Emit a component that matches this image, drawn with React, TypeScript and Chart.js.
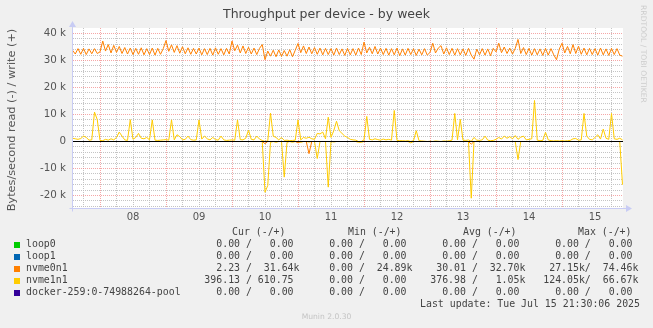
import React, { useEffect, useRef } from "react";
import { Chart, registerables } from "chart.js";

Chart.register(...registerables);

// ---- time axis: hours since Jul 8 00:00, one sample per hour, first sample Jul 7 14:00
const START_HOUR = -10;
const X_MIN = -9.82;
const X_MAX = 190.18;
const Y_MIN_K = -24.63;
const Y_MAX_K = 42.04;

const dayLabels = ["08", "09", "10", "11", "12", "13", "14", "15"];
const dayLabelHours = [12, 36, 60, 84, 108, 132, 156, 180];
const xGridHours = [
  -6, 0, 6, 12, 18, 24, 30, 36, 42, 48, 54, 60, 66, 72, 78, 84, 90, 96, 102, 108,
  114, 120, 126, 132, 138, 144, 150, 156, 162, 168, 174, 180, 186,
];
const yGridK = [
  -24, -22, -20, -18, -16, -14, -12, -10, -8, -6, -4, -2, 0, 2, 4, 6, 8, 10, 12,
  14, 16, 18, 20, 22, 24, 26, 28, 30, 32, 34, 36, 38, 40,
];
const yLabelK = [-20, -10, 0, 10, 20, 30, 40];

// ---- series (k = thousands of bytes/second)
const zeroSpanHours = [-10, 190];
const loop0ReadK = [0, 0];
const loop0WriteK = [0, 0];
const loop1ReadK = [0, 0];
const loop1WriteK = [0, 0];
const dockerReadK = [0, 0];
const dockerWriteK = [0, 0];

const nvme0n1WriteK = [
  // Jul 7 14:00-23:00
  33.8, 32.4, 34.4, 32.3, 34.5, 32.2, 34.3, 32.5, 34.4, 32.6,
  // Jul 8
  33.2, 37.2, 33.5, 35.9, 32.8, 35.6, 33.0, 35.2, 32.6, 34.8, 32.4, 34.6,
  32.2, 34.5, 32.3, 34.7, 32.1, 34.4, 32.2, 34.6, 32.0, 34.5, 32.3, 34.4,
  // Jul 9
  37.4, 33.4, 35.8, 33.0, 35.5, 32.7, 35.1, 32.5, 34.7, 32.3, 34.5, 32.4,
  34.6, 32.1, 34.4, 32.2, 34.5, 32.0, 34.7, 32.3, 34.4, 32.1, 34.5, 32.4,
  // Jul 10
  37.2, 33.6, 35.7, 32.8, 35.4, 32.6, 34.9, 32.4, 34.6, 32.2, 34.5, 35.9,
  30.3, 33.5, 31.6, 33.8, 31.4, 33.9, 31.5, 33.7, 31.6, 34.0, 31.4, 33.8,
  // Jul 11
  36.3, 32.9, 35.4, 32.6, 35.0, 32.5, 34.8, 32.3, 34.6, 32.1, 34.5, 32.2,
  34.4, 32.0, 34.6, 32.2, 34.3, 31.9, 34.5, 32.1, 34.4, 32.0, 34.6, 32.2,
  // Jul 12
  36.8, 32.8, 34.9, 32.5, 35.2, 32.4, 34.6, 32.2, 34.5, 32.0, 34.4, 32.1,
  34.6, 31.8, 34.3, 32.0, 34.5, 32.2, 34.4, 31.9, 34.2, 32.1, 34.4, 32.0,
  // Jul 13
  33.0, 36.4, 32.8, 34.6, 35.5, 32.4, 34.7, 32.2, 34.5, 32.0, 34.4, 32.1,
  34.3, 31.9, 34.5, 32.0, 30.5, 34.2, 32.1, 34.4, 32.0, 34.3, 31.8, 34.5,
  // Jul 14
  33.2, 36.4, 32.9, 35.0, 32.6, 34.6, 32.4, 34.5, 37.8, 32.6, 34.8, 32.2,
  34.5, 32.0, 34.4, 32.1, 34.3, 31.9, 34.5, 32.0, 34.4, 32.1, 30.3, 34.2,
  // Jul 15 00:00-22:00
  36.4, 32.8, 35.2, 32.5, 35.9, 32.6, 35.3, 32.3, 34.6, 32.1, 34.5, 32.2,
  34.4, 32.0, 34.6, 32.1, 34.3, 31.9, 34.5, 32.2, 34.4, 32.0, 31.6,
];

const nvme0n1ReadK = [
  0, 0, 0, 0, 0, 0, 0, 0, 0, 0,
  0, 0, 0, 0, 0, 0, 0, 0, 0, 0, 0, 0, 0, 0, 0, 0, 0, 0, 0, 0, 0, 0, 0, 0,
  0, 0, 0, 0, 0, 0, 0, 0, 0, 0, 0, 0, 0, 0, 0, 0, 0, 0, 0, 0, 0, 0, 0, 0,
  0, 0, 0, 0, 0, 0, 0, 0, 0, 0, 0, 0, 0.8, 0, 0, 0, 0, 0, 0, 0, 0, 0, 0, 0,
  0.5, 0, 0, 0, 4.5, 0, 0, 0, 0, 0, 0, 0, 0, 0, 0, 0, 0, 0, 0, 0, 0, 0, 0, 0,
  0, 0, 0, 0, 0, 0, 0, 0, 0, 0, 0, 0, 0, 0, 0, 0, 0, 0, 0, 0, 0, 0, 0, 0,
  0, 0, 0, 0, 0, 0, 0, 0, 0, 0, 0, 0, 0, 0, 0, 1.0, 0, 0, 0, 0, 0, 0, 0, 0,
  0, 0, 0, 0, 0, 0, 0, 0, 0, 0, 0, 0, 0, 0, 0, 0, 0, 0, 0, 0, 0, 0, 0, 0,
  0, 0, 0, 0, 0, 0, 0, 0, 0, 0, 0, 0, 0, 0, 0, 0, 0, 0, 0, 0, 0, 0, 0,
];

const nvme1n1WriteK = [
  // Jul 7 14:00-23:00
  1.2, 1.0, 0.8, 1.1, 2.0, 1.5, 0.5, 0.6, 10.9, 8.1,
  // Jul 8
  0.4, 0.3, 0.8, 0.5, 1.0, 0.6, 1.5, 3.5, 2.0, 0.6, 0.4, 8.1,
  0.8, 1.5, 3.0, 1.2, 1.0, 1.5, 0.6, 8.0, 0.5, 0.4, 0.5, 0.6,
  // Jul 9
  0.7, 0.5, 8.0, 0.6, 2.5, 1.8, 0.6, 0.8, 2.0, 0.7, 0.5, 0.6,
  8.0, 0.9, 2.0, 1.0, 0.6, 1.5, 0.7, 0.5, 2.0, 0.6, 0.4, 0.5,
  // Jul 10
  0.6, 0.5, 8.0, 0.7, 0.6, 1.2, 4.2, 0.8, 0.6, 2.0, 0.9, 0.4,
  0.0, 0.2, 10.5, 2.0, 1.5, 0.6, 1.5, 0.4, 0.5, 0.3, 0.4, 0.5,
  // Jul 11
  8.0, 0.6, 1.5, 1.2, 1.6, 1.0, 0.8, 3.0, 2.8, 3.5, 1.0, 9.0,
  1.5, 4.0, 7.5, 4.0, 3.0, 2.0, 1.5, 0.8, 0.6, 0.5, 0.0, 0.0,
  // Jul 12
  0.6, 9.3, 0.8, 0.6, 1.0, 0.7, 0.5, 0.9, 0.6, 0.8, 0.5, 11.5,
  0.4, 0.3, 0.3, 0.2, 0.3, 0.0, 0.3, 4.0, 0.3, 0.2, 0.1, 0.0,
  // Jul 13
  0.1, 0.0, 0.2, 0.1, 0.0, 0.2, 0.1, 0.3, 0.5, 10.4, 0.6, 8.2,
  0.5, 0.4, 0.6, 0.0, 1.5, 0.5, 0.4, 0.6, 2.0, 0.5, 0.3, 0.4,
  // Jul 14
  0.8, 1.5, 0.9, 2.0, 1.2, 1.8, 1.0, 2.2, 0.8, 1.6, 2.0, 0.6,
  0.8, 1.0, 15.2, 0.5, 0.3, 0.4, 3.4, 0.6, 0.3, 0.2, 0.3, 0.2,
  // Jul 15 00:00-22:00
  0.3, 0.2, 0.3, 0.4, 1.0, 1.1, 0.5, 0.6, 10.4, 2.0, 0.8, 0.6,
  1.5, 2.5, 0.9, 4.6, 1.2, 0.8, 10.4, 1.0, 0.8, 1.2, 0.6,
];

const nvme1n1ReadK = [
  0, 0, 0, 0, 0, 0, 0, 0, 0, 0,
  0, 0, 0, 0, 0, 0, 0, 0, 0, 0, 0, 0, 0, 0, 0, 0, 0, 0, 0, 0, 0, 0, 0, 0,
  0, 0, 0, 0, 0, 0, 0, 0, 0, 0, 0, 0, 0, 0, 0, 0, 0, 0, 0, 0, 0, 0, 0, 0,
  0, 0, 0, 0, 0, 0, 0, 0, 0, 0, 0, 0, 18.8, 16.3, 0.3, 0, 0.3, 0, 0, 13.2, 0.3, 0, 0.3, 0,
  0, 0.3, 0, 0, 0.2, 0, 0, 6.3, 0, 0, 0, 16.9, 0, 0.2, 0, 0, 0, 0, 0, 0, 0, 0, 0.3, 0.3,
  0, 0, 0, 0, 0, 0, 0, 0, 0, 0, 0, 0, 0, 0, 0, 0, 0, 0.5, 0, 0, 0, 0, 0, 0,
  0, 0, 0, 0, 0, 0, 0, 0, 0, 0, 0, 0, 0, 0, 0, 21.0, 0, 0, 0, 0, 0, 0, 0, 0,
  0, 0, 0, 0, 0, 0, 0, 0, 6.7, 0, 0, 0, 0, 0, 0, 0, 0, 0, 0, 0, 0, 0, 0, 0,
  0, 0, 0, 0, 0, 0, 0, 0, 0, 0, 0, 0, 0, 0, 0, 0, 0, 0, 0, 0, 0, 0, 16.0,
];

// ---- legend
const legendNames = ["loop0", "loop1", "nvme0n1", "nvme1n1", "docker-259:0-74988264-pool"];
const legendColors = ["#00CC00", "#0066B3", "#FF8000", "#FFCC00", "#330099"];
const legendHeaders = ["Cur (-/+)", "Min (-/+)", "Avg (-/+)", "Max (-/+)"];
const legendCur = [["0.00", "0.00"], ["0.00", "0.00"], ["2.23", "31.64k"], ["396.13", "610.75"], ["0.00", "0.00"]];
const legendMin = [["0.00", "0.00"], ["0.00", "0.00"], ["0.00", "24.89k"], ["0.00", "0.00"], ["0.00", "0.00"]];
const legendAvg = [["0.00", "0.00"], ["0.00", "0.00"], ["30.01", "32.70k"], ["376.98", "1.05k"], ["0.00", "0.00"]];
const legendMax = [["0.00", "0.00"], ["0.00", "0.00"], ["27.15k", "74.46k"], ["124.05k", "66.67k"], ["0.00", "0.00"]];

const TITLE = "Throughput per device - by week";
const Y_TITLE = "Bytes/second read (-) / write (+)";
const LAST_UPDATE = "Last update: Tue Jul 15 21:30:06 2025";
const FOOTER = "Munin 2.0.30";
const SIDE_TEXT = "RRDTOOL / TOBI OETIKER";

const MAJOR_GRID = "rgba(240,120,120,0.65)";
const MINOR_GRID = "rgba(190,190,190,0.9)";
const AXIS_COLOR = "#C8CCF4";
const TEXT_COLOR = "#555555";

function fmtRead(s: string) {
  return s.endsWith("k") ? s.padStart(7) : s.padStart(6) + " ";
}
function fmtWrite(s: string) {
  return s.endsWith("k") ? s.padStart(8) : s.padStart(7) + " ";
}
function cell(p: string[]) {
  return fmtRead(p[0]) + "/" + fmtWrite(p[1]);
}
function legendRow(i: number) {
  return (
    legendNames[i].padEnd(30) +
    cell(legendCur[i]) + "   " +
    cell(legendMin[i]) + "   " +
    cell(legendAvg[i]) + "   " +
    cell(legendMax[i])
  );
}

function hourlyPoints(values: number[], sign: number) {
  return values.map((v, i) => ({ x: START_HOUR + i, y: sign * v }));
}
function spanPoints(values: number[], sign: number) {
  return values.map((v, i) => ({ x: zeroSpanHours[i], y: sign * v }));
}

const bgPlugin = {
  id: "plotBg",
  beforeDraw(chart: any) {
    const { ctx, chartArea } = chart;
    ctx.save();
    ctx.fillStyle = "#FFFFFF";
    ctx.fillRect(chartArea.left, chartArea.top, chartArea.right - chartArea.left, chartArea.bottom - chartArea.top);
    ctx.restore();
  },
};

const zeroLinePlugin = {
  id: "zeroLine",
  afterDatasetsDraw(chart: any) {
    const { ctx, chartArea } = chart;
    const y = Math.floor(chart.scales.y.getPixelForValue(0)) + 0.5;
    ctx.save();
    ctx.strokeStyle = "#000000";
    ctx.lineWidth = 1;
    ctx.beginPath();
    ctx.moveTo(chartArea.left, y);
    ctx.lineTo(chartArea.right, y);
    ctx.stroke();
    ctx.restore();
  },
};

const axisPlugin = {
  id: "rrdAxes",
  afterDraw(chart: any) {
    const { ctx, chartArea } = chart;
    const ax = chartArea.left - 0.5;
    const ay = chartArea.bottom + 0.5;
    ctx.save();
    ctx.strokeStyle = AXIS_COLOR;
    ctx.fillStyle = AXIS_COLOR;
    ctx.lineWidth = 1;
    ctx.beginPath();
    ctx.moveTo(ax - 3, ay);
    ctx.lineTo(chartArea.right + 4, ay);
    ctx.moveTo(ax, ay + 3);
    ctx.lineTo(ax, chartArea.top - 2);
    ctx.stroke();
    // arrows
    ctx.beginPath();
    ctx.moveTo(chartArea.right + 3, ay - 3.5);
    ctx.lineTo(chartArea.right + 9, ay);
    ctx.lineTo(chartArea.right + 3, ay + 3.5);
    ctx.closePath();
    ctx.fill();
    ctx.beginPath();
    ctx.moveTo(ax - 3.5, chartArea.top - 1);
    ctx.lineTo(ax, chartArea.top - 7);
    ctx.lineTo(ax + 3.5, chartArea.top - 1);
    ctx.closePath();
    ctx.fill();
    ctx.restore();
  },
};

export default function App() {
  const canvasRef = useRef<HTMLCanvasElement | null>(null);

  useEffect(() => {
    const canvas = canvasRef.current;
    if (!canvas) return;

    const series = [
      { name: "loop0", color: legendColors[0], read: spanPoints(loop0ReadK, -1), write: spanPoints(loop0WriteK, 1) },
      { name: "loop1", color: legendColors[1], read: spanPoints(loop1ReadK, -1), write: spanPoints(loop1WriteK, 1) },
      { name: "nvme0n1", color: legendColors[2], read: hourlyPoints(nvme0n1ReadK, -1), write: hourlyPoints(nvme0n1WriteK, 1) },
      { name: "nvme1n1", color: legendColors[3], read: hourlyPoints(nvme1n1ReadK, -1), write: hourlyPoints(nvme1n1WriteK, 1) },
      { name: "docker", color: legendColors[4], read: spanPoints(dockerReadK, -1), write: spanPoints(dockerWriteK, 1) },
    ];
    const datasets: any[] = [];
    series.forEach((s) => {
      datasets.push({ label: s.name + " read", data: s.read, borderColor: s.color, backgroundColor: s.color });
      datasets.push({ label: s.name + " write", data: s.write, borderColor: s.color, backgroundColor: s.color });
    });
    // later series drawn on top (Chart.js draws lowest "order" last)
    datasets.forEach((d, i) => { d.order = datasets.length - i; });

    const chart = new Chart(canvas, {
      type: "line",
      data: { datasets },
      options: {
        animation: false,
        responsive: false,
        devicePixelRatio: 1,
        layout: { padding: { top: 28, right: 30, bottom: 100, left: 0 } },
        elements: {
          point: { radius: 0 },
          line: { borderWidth: 1, tension: 0 },
        },
        plugins: {
          legend: { display: false },
          tooltip: { enabled: false },
          title: { display: false },
        },
        scales: {
          x: {
            type: "linear",
            min: X_MIN,
            max: X_MAX,
            afterFit: (s: any) => { s.height = 20; },
            afterBuildTicks: (s: any) => { s.ticks = xGridHours.map((v) => ({ value: v })); },
            ticks: {
              autoSkip: false,
              maxRotation: 0,
              padding: 3,
              color: TEXT_COLOR,
              font: { family: "DejaVu Sans", size: 10 },
              callback: (v: any) => {
                const i = dayLabelHours.indexOf(Number(v));
                return i >= 0 ? dayLabels[i] : "";
              },
            },
            grid: {
              drawTicks: false,
              lineWidth: 1,
              color: (c: any) => (c.tick && c.tick.value % 24 === 0 ? MAJOR_GRID : MINOR_GRID),
            },
            border: { display: false, dash: [1, 1] },
          },
          y: {
            type: "linear",
            min: Y_MIN_K,
            max: Y_MAX_K,
            afterFit: (s: any) => { s.width = 73; },
            afterBuildTicks: (s: any) => { s.ticks = yGridK.map((v) => ({ value: v })); },
            ticks: {
              autoSkip: false,
              padding: 7,
              color: TEXT_COLOR,
              font: { family: "DejaVu Sans", size: 10.3 },
              callback: (v: any) => {
                const n = Number(v);
                if (yLabelK.indexOf(n) < 0) return "";
                return n === 0 ? "0" : `${n} k`;
              },
            },
            grid: {
              drawTicks: false,
              lineWidth: 1,
              color: (c: any) => (c.tick && c.tick.value % 10 === 0 ? MAJOR_GRID : MINOR_GRID),
            },
            border: { display: false, dash: [1, 1] },
          },
        },
      } as any,
      plugins: [bgPlugin, zeroLinePlugin, axisPlugin],
    });

    return () => chart.destroy();
  }, []);

  const mono: React.CSSProperties = {
    position: "absolute",
    fontFamily: "'DejaVu Sans Mono', monospace",
    fontSize: "9.9px",
    lineHeight: "12px",
    whiteSpace: "pre",
    color: "#444444",
  };
  const headerX = [232, 348, 463, 578];
  const rowCenters = [244, 256, 268, 280, 292];

  return (
    <div
      style={{
        position: "fixed",
        left: 0,
        top: 0,
        width: 653,
        height: 328,
        background: "#F0F0F0",
        overflow: "hidden",
      }}
    >
      <canvas ref={canvasRef} width={653} height={328} style={{ position: "absolute", left: 0, top: 0, width: 653, height: 328 }} />
      <div
        style={{
          position: "absolute", left: 0, top: 6, width: 653, textAlign: "center",
          fontFamily: "'DejaVu Sans', sans-serif", fontSize: "12.5px", lineHeight: "16px", color: "#444444",
        }}
      >
        {TITLE}
      </div>
      <div
        style={{
          position: "absolute", left: 12 - 110, top: 120 - 7, width: 220, height: 14, textAlign: "center",
          transform: "rotate(-90deg)", transformOrigin: "110px 7px",
          fontFamily: "'DejaVu Sans', sans-serif", fontSize: "11.3px", lineHeight: "14px", color: TEXT_COLOR,
          whiteSpace: "nowrap",
        }}
      >
        {Y_TITLE}
      </div>
      <div
        style={{
          position: "absolute", left: 643 - 60, top: 54 - 5, width: 120, height: 10, textAlign: "center",
          transform: "rotate(90deg)", transformOrigin: "60px 5px",
          fontFamily: "'DejaVu Sans', sans-serif", fontSize: "7.6px", lineHeight: "10px", color: "#CCCCCC",
          whiteSpace: "nowrap",
        }}
      >
        {SIDE_TEXT}
      </div>
      {legendHeaders.map((h, i) => (
        <div key={h} style={{ ...mono, left: headerX[i], top: 232 - 6 }}>{h}</div>
      ))}
      {legendNames.map((n, i) => (
        <React.Fragment key={n}>
          <div style={{ position: "absolute", left: 14, top: rowCenters[i] - 2, width: 6, height: 6, background: legendColors[i] }} />
          <div style={{ ...mono, left: 26, top: rowCenters[i] - 6 }}>{legendRow(i)}</div>
        </React.Fragment>
      ))}
      <div style={{ ...mono, right: 13, top: 304 - 6 }}>{LAST_UPDATE}</div>
      <div
        style={{
          position: "absolute", left: 0, width: 653, top: 317 - 5, textAlign: "center",
          fontFamily: "'DejaVu Sans', sans-serif", fontSize: "7.6px", lineHeight: "10px", color: "#C4C4C4",
        }}
      >
        {FOOTER}
      </div>
    </div>
  );
}
